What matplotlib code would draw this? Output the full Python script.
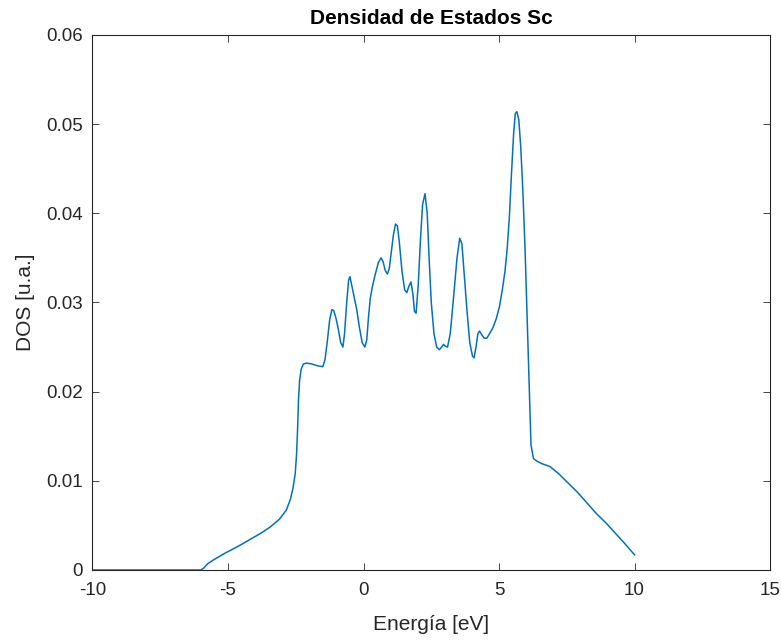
import numpy as np
import matplotlib.pyplot as plt
from matplotlib.ticker import FuncFormatter

# Energy (eV) and DOS (a.u.)
energia = [-10.0, -8.0, -6.0, -5.9, -5.75, -5.5, -5.1, -4.6, -4.2, -3.8, -3.45,
           -3.1, -2.85, -2.7, -2.6, -2.52, -2.47, -2.43, -2.40, -2.36, -2.30,
           -2.22, -2.10, -1.90, -1.70, -1.50, -1.42, -1.33, -1.25, -1.17, -1.10,
           -1.02, -0.93, -0.84, -0.76, -0.70, -0.62, -0.55, -0.50, -0.44, -0.35,
           -0.25, -0.15, -0.05, 0.05, 0.12, 0.18, 0.25, 0.33, 0.42, 0.55, 0.65,
           0.72, 0.80, 0.88, 0.95, 1.02, 1.10, 1.18, 1.25, 1.32, 1.42, 1.52,
           1.60, 1.67, 1.75, 1.82, 1.88, 1.94, 2.02, 2.10, 2.18, 2.27, 2.35,
           2.42, 2.50, 2.60, 2.70, 2.80, 2.88, 2.95, 3.02, 3.10, 3.20, 3.32,
           3.45, 3.55, 3.63, 3.72, 3.82, 3.92, 4.02, 4.08, 4.15, 4.22, 4.28,
           4.36, 4.45, 4.55, 4.65, 4.78, 4.90, 5.02, 5.12, 5.22, 5.30, 5.38,
           5.46, 5.54, 5.60, 5.66, 5.73, 5.80, 5.88, 5.96, 6.04, 6.12, 6.18,
           6.27, 6.40, 6.60, 6.88, 7.20, 7.50, 7.90, 8.25, 8.60, 8.97, 9.30,
           9.60, 9.80, 10.0]
dos = [0.0, 0.0, 0.0, 0.0002, 0.0007, 0.0012, 0.0019, 0.0027, 0.0034, 0.0041,
       0.0048, 0.0057, 0.0067, 0.0079, 0.0092, 0.0108, 0.0130, 0.0160, 0.0190,
       0.0212, 0.0225, 0.0231, 0.0232, 0.0231, 0.0229, 0.0228, 0.0236, 0.0258,
       0.0280, 0.0292, 0.0291, 0.0283, 0.0270, 0.0255, 0.0250, 0.0265, 0.0300,
       0.0325, 0.0329, 0.0320, 0.0306, 0.0292, 0.0272, 0.0255, 0.0250, 0.0258,
       0.0282, 0.0305, 0.0318, 0.0330, 0.0345, 0.0350, 0.0346, 0.0336, 0.0332,
       0.0338, 0.0355, 0.0375, 0.0388, 0.0386, 0.0368, 0.0335, 0.0314, 0.0311,
       0.0318, 0.0323, 0.0310, 0.0290, 0.0288, 0.0320, 0.0370, 0.0410, 0.0422,
       0.0400, 0.0350, 0.0300, 0.0265, 0.0250, 0.0247, 0.0250, 0.0253, 0.0251,
       0.0250, 0.0265, 0.0305, 0.0350, 0.0372, 0.0366, 0.0330, 0.0290, 0.0255,
       0.0240, 0.0238, 0.0250, 0.0265, 0.0268, 0.0264, 0.0260, 0.0260, 0.0265,
       0.0272, 0.0282, 0.0296, 0.0314, 0.0335, 0.0360, 0.0395, 0.0445, 0.0490,
       0.0512, 0.0514, 0.0505, 0.0475, 0.0425, 0.0360, 0.0280, 0.0200, 0.0140,
       0.0125, 0.0122, 0.0119, 0.0116, 0.0108, 0.0099, 0.0087, 0.0075, 0.0063,
       0.0052, 0.0041, 0.0031, 0.0024, 0.0017]

xticks = [-10, -5, 0, 5, 10, 15]
yticks = [0, 0.01, 0.02, 0.03, 0.04, 0.05, 0.06]

plt.rcParams['font.family'] = ['Liberation Sans', 'DejaVu Sans']
plt.rcParams['axes.unicode_minus'] = False
gris = '#262626'

fig = plt.figure(figsize=(7.81, 6.41), dpi=100)
ax = fig.add_axes([0.1184, 0.1108, 0.8676, 0.8346])

ax.plot(energia, dos, color='#0072BD', linewidth=1.1)

ax.set_xlim(-10, 15)
ax.set_ylim(0, 0.06)
ax.set_xticks(xticks)
ax.set_yticks(yticks)
ax.yaxis.set_major_formatter(FuncFormatter(lambda v, p: '%g' % round(v, 4)))
ax.tick_params(direction='in', top=True, right=True, length=5, width=0.6,
               colors=gris, labelsize=13.5)
ax.tick_params(axis='x', pad=9)
ax.tick_params(axis='y', pad=7)
for s in ax.spines.values():
    s.set_color(gris)
    s.set_linewidth(0.8)

ax.set_title('Densidad de Estados Sc', fontsize=15, fontweight='bold', pad=8)
ax.set_xlabel('Energía [eV]', fontsize=15, color=gris, labelpad=11)
ax.set_ylabel('DOS [u.a.]', fontsize=15, color=gris, labelpad=8)

plt.savefig('out.png', dpi=100)
